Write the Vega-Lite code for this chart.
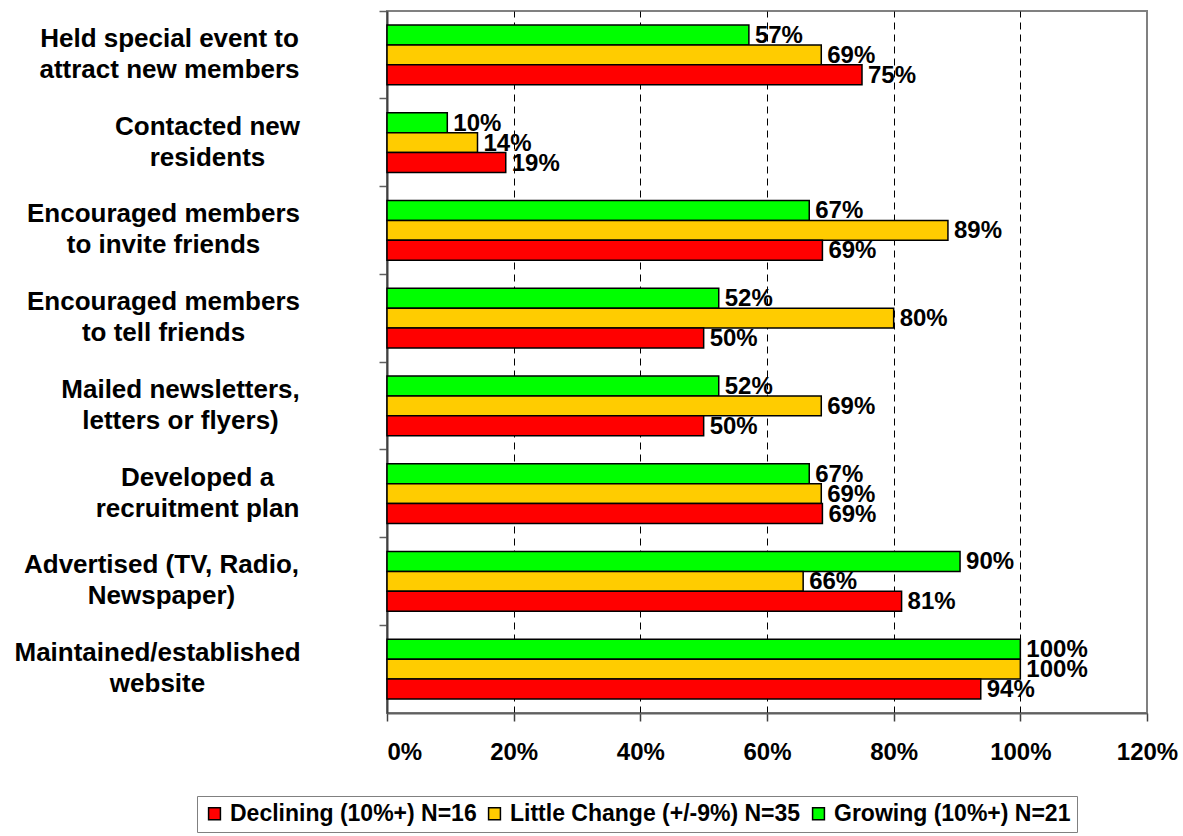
{
  "$schema": "https://vega.github.io/schema/vega-lite/v6.json",
  "width": 760,
  "height": 702,
  "autosize": {"type": "none"},
  "padding": {"left": 387, "top": 11, "right": 36, "bottom": 123},
  "background": "white",
  "config": {
    "font": "Liberation Sans",
    "view": {"stroke": "#808080", "strokeWidth": 2},
    "axis": {"labelFont": "Liberation Sans", "labelFontWeight": "bold", "labelColor": "black"}
  },
  "data": {
    "values": [
      {"activity": "Held special event to attract new members", "group": "Growing (10%+) N=21", "share": 0.5714},
      {"activity": "Held special event to attract new members", "group": "Little Change (+/-9%) N=35", "share": 0.6857},
      {"activity": "Held special event to attract new members", "group": "Declining (10%+) N=16", "share": 0.75},
      {"activity": "Contacted new residents", "group": "Growing (10%+) N=21", "share": 0.0952},
      {"activity": "Contacted new residents", "group": "Little Change (+/-9%) N=35", "share": 0.1429},
      {"activity": "Contacted new residents", "group": "Declining (10%+) N=16", "share": 0.1875},
      {"activity": "Encouraged members to invite friends", "group": "Growing (10%+) N=21", "share": 0.6667},
      {"activity": "Encouraged members to invite friends", "group": "Little Change (+/-9%) N=35", "share": 0.8857},
      {"activity": "Encouraged members to invite friends", "group": "Declining (10%+) N=16", "share": 0.6875},
      {"activity": "Encouraged members to tell friends", "group": "Growing (10%+) N=21", "share": 0.5238},
      {"activity": "Encouraged members to tell friends", "group": "Little Change (+/-9%) N=35", "share": 0.8},
      {"activity": "Encouraged members to tell friends", "group": "Declining (10%+) N=16", "share": 0.5},
      {"activity": "Mailed newsletters, letters or flyers)", "group": "Growing (10%+) N=21", "share": 0.5238},
      {"activity": "Mailed newsletters, letters or flyers)", "group": "Little Change (+/-9%) N=35", "share": 0.6857},
      {"activity": "Mailed newsletters, letters or flyers)", "group": "Declining (10%+) N=16", "share": 0.5},
      {"activity": "Developed a recruitment plan", "group": "Growing (10%+) N=21", "share": 0.6667},
      {"activity": "Developed a recruitment plan", "group": "Little Change (+/-9%) N=35", "share": 0.6857},
      {"activity": "Developed a recruitment plan", "group": "Declining (10%+) N=16", "share": 0.6875},
      {"activity": "Advertised (TV, Radio, Newspaper)", "group": "Growing (10%+) N=21", "share": 0.9048},
      {"activity": "Advertised (TV, Radio, Newspaper)", "group": "Little Change (+/-9%) N=35", "share": 0.6571},
      {"activity": "Advertised (TV, Radio, Newspaper)", "group": "Declining (10%+) N=16", "share": 0.8125},
      {"activity": "Maintained/established website", "group": "Growing (10%+) N=21", "share": 1.0},
      {"activity": "Maintained/established website", "group": "Little Change (+/-9%) N=35", "share": 1.0},
      {"activity": "Maintained/established website", "group": "Declining (10%+) N=16", "share": 0.9375}
    ]
  },
  "encoding": {
    "y": {
      "field": "activity",
      "type": "nominal",
      "sort": null,
      "scale": {"paddingInner": 0, "paddingOuter": 0},
      "axis": {
        "title": null,
        "bandPosition": 0,
        "tickSize": 8,
        "tickColor": "#606060",
        "tickWidth": 1.5,
        "domainColor": "#404040",
        "domainWidth": 2,
        "labelPadding": {
          "condition": [
            {"test": "datum.label === 'Held special event to attract new members'", "value": 210},
            {"test": "datum.label === 'Contacted new residents'", "value": 172},
            {"test": "indexof(datum.label, 'Encouraged') === 0", "value": 216},
            {"test": "datum.label === 'Mailed newsletters, letters or flyers)'", "value": 199},
            {"test": "datum.label === 'Developed a recruitment plan'", "value": 182},
            {"test": "datum.label === 'Advertised (TV, Radio, Newspaper)'", "value": 218}
          ],
          "value": 222
        },
        "labelAlign": "center",
        "labelBaseline": "middle",
        "labelOffset": -16,
        "labelFontSize": 26,
        "labelLineHeight": 31,
        "labelLimit": 400,
        "labelExpr": "{'Held special event to attract new members': ['Held special event to', 'attract new members'], 'Contacted new residents': ['Contacted new', 'residents'], 'Encouraged members to invite friends': ['Encouraged members', 'to invite friends'], 'Encouraged members to tell friends': ['Encouraged members', 'to tell friends'], 'Mailed newsletters, letters or flyers)': ['Mailed newsletters,', 'letters or flyers)'], 'Developed a recruitment plan': ['Developed a', 'recruitment plan'], 'Advertised (TV, Radio, Newspaper)': ['Advertised (TV, Radio,', 'Newspaper)'], 'Maintained/established website': ['Maintained/established', 'website']}[datum.label]"
      }
    },
    "yOffset": {
      "field": "group",
      "type": "nominal",
      "scale": {
        "domain": ["Growing (10%+) N=21", "Little Change (+/-9%) N=35", "Declining (10%+) N=16"],
        "paddingInner": 0,
        "paddingOuter": 0.7
      }
    },
    "x": {
      "field": "share",
      "type": "quantitative",
      "scale": {"domain": [0, 1.2], "nice": false},
      "axis": {
        "title": null,
        "values": [0, 0.2, 0.4, 0.6, 0.8, 1.0, 1.2],
        "format": ".0%",
        "tickSize": 8,
        "tickColor": "#404040",
        "tickWidth": 1.5,
        "domainColor": "#606060",
        "domainWidth": 2,
        "labelFontSize": 24,
        "labelPadding": 19,
        "labelFlush": false,
        "labelAlign": {"condition": {"test": "datum.value === 0", "value": "left"}, "value": "center"},
        "grid": true,
        "gridColor": "black",
        "gridDash": [7, 5],
        "gridWidth": 1,
        "gridOpacity": {"condition": {"test": "datum.value === 0 || datum.value >= 1.19", "value": 0}, "value": 1}
      }
    }
  },
  "layer": [
    {
      "mark": {"type": "bar", "stroke": "black", "strokeWidth": 1.5},
      "encoding": {
        "color": {
          "field": "group",
          "type": "nominal",
          "scale": {
            "domain": ["Declining (10%+) N=16", "Little Change (+/-9%) N=35", "Growing (10%+) N=21"],
            "range": ["#FF0000", "#FFCC00", "#00FF00"]
          },
          "legend": {
            "title": null,
            "orient": "none",
            "legendX": -190,
            "legendY": 785,
            "direction": "horizontal",
            "strokeColor": "#808080",
            "fillColor": "white",
            "padding": 6,
            "symbolType": "square",
            "symbolSize": 140,
            "symbolStrokeColor": "black",
            "symbolStrokeWidth": 1.5,
            "labelFont": "Liberation Sans",
            "labelFontWeight": "bold",
            "labelFontSize": 23,
            "labelColor": "black",
            "labelOffset": 4,
            "columnPadding": 6,
            "labelLimit": 400
          }
        }
      }
    },
    {
      "mark": {"type": "text", "align": "left", "baseline": "middle", "dx": 6, "dy": 1, "font": "Liberation Sans", "fontWeight": "bold", "fontSize": 24, "color": "black"},
      "encoding": {
        "text": {"field": "share", "type": "quantitative", "format": ".0%"}
      }
    }
  ]
}
